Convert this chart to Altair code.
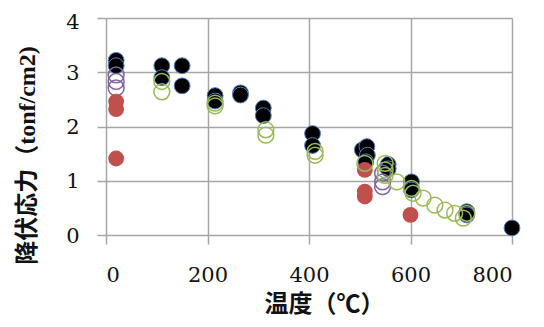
import altair as alt
import pandas as pd

black_x = [20, 20, 110, 110, 150, 150, 215, 215, 265, 265, 310, 310, 407, 407, 505, 514, 515, 512, 556, 556, 602, 602, 711, 711, 800]
black_y = [3.22, 3.12, 3.12, 2.90, 3.12, 2.75, 2.57, 2.47, 2.62, 2.58, 2.34, 2.20, 1.87, 1.65, 1.57, 1.63, 1.47, 1.35, 1.30, 1.22, 0.98, 0.83, 0.43, 0.37, 0.13]

purple_x = [20, 20, 20, 545, 545, 545]
purple_y = [2.95, 2.83, 2.71, 1.14, 0.98, 0.89]

red_x = [20, 20, 20, 510, 510, 510, 600]
red_y = [2.46, 2.32, 1.41, 1.20, 0.80, 0.71, 0.37]

green_x = [110, 110, 215, 215, 315, 315, 412, 412, 510, 550, 550, 550, 573, 602, 605, 625, 648, 668, 687, 704, 711]
green_y = [2.83, 2.64, 2.43, 2.38, 1.94, 1.84, 1.54, 1.47, 1.32, 1.32, 1.20, 1.10, 0.98, 0.86, 0.77, 0.68, 0.55, 0.46, 0.40, 0.31, 0.40]

x_ticks = [0, 200, 400, 600, 800]
y_ticks = [0, 1, 2, 3, 4]

def df(xs, ys):
    return pd.DataFrame({"t": xs, "s": ys})

LABEL_FONT = "DejaVu Serif"
TITLE_FONT = "Liberation Serif, Noto Sans CJK JP"

xenc = alt.X("t:Q", scale=alt.Scale(domain=[0, 800], nice=False),
             axis=alt.Axis(values=x_ticks, title="温度（℃）", format="d",
                           titleX=218, titleY=69, titleBaseline="middle", titleAlign="center",
                           labelPadding=20))
yenc = alt.Y("s:Q", scale=alt.Scale(domain=[0, 4], nice=False),
             axis=alt.Axis(values=y_ticks, title="降伏応力（tonf/cm2)", format="d",
                           titleX=-79, titleY=137, titleAngle=-90, titleBaseline="middle",
                           titleAlign="center", labelPadding=18,
                           labelOffset={"condition": {"test": "datum.value == 4", "value": 4},
                                        "value": 1}))

SIZE = 250
black = alt.Chart(df(black_x, black_y)).mark_circle(
    size=SIZE, color="#000000", opacity=1, stroke="#4F81BD", strokeWidth=1
).encode(x=xenc, y=yenc)
purple = alt.Chart(df(purple_x, purple_y)).mark_point(
    shape="circle", size=SIZE, filled=False, color="#8064A2", strokeWidth=1.5, opacity=1
).encode(x="t:Q", y="s:Q")
red = alt.Chart(df(red_x, red_y)).mark_circle(
    size=SIZE, color="#C0504D", opacity=1
).encode(x="t:Q", y="s:Q")
green = alt.Chart(df(green_x, green_y)).mark_point(
    shape="circle", size=SIZE, filled=False, color="#9BBB59", strokeWidth=1.5, opacity=1
).encode(x="t:Q", y="s:Q")

chart = alt.layer(black, purple, red, green).properties(
    width=406, height=217,
    autosize=alt.AutoSizeParams(type="none"),
    padding={"left": 98, "top": 10, "right": 24, "bottom": 84},
).configure_view(stroke=None).configure_axis(
    grid=True, gridColor="#A6A6A6", gridWidth=1.5,
    domain=False, ticks=True, tickColor="#A6A6A6", tickSize=9, tickWidth=1.5,
    labelFont=LABEL_FONT, labelFontSize=21, labelColor="#111111",
    titleFont=TITLE_FONT, titleFontSize=24, titleFontWeight="bold", titleColor="#111111",
)

chart.save("out.html", embed_options={"renderer": "svg", "actions": False})
